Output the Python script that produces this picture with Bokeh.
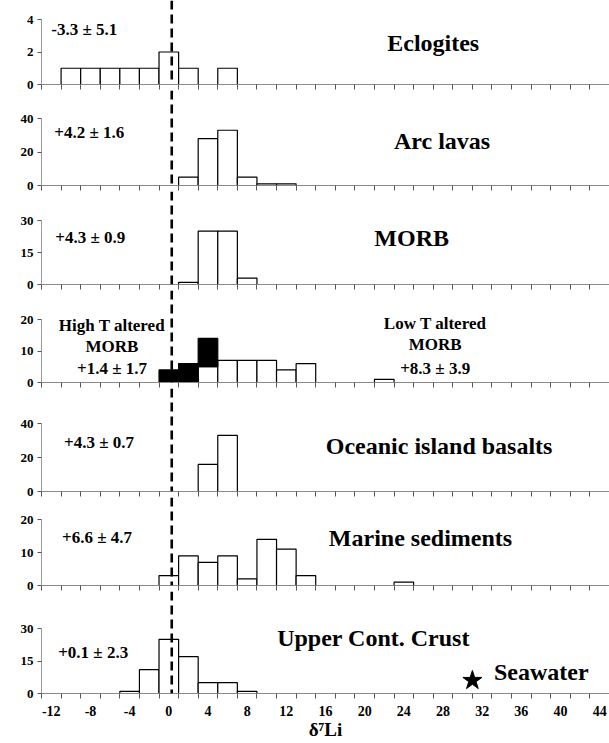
import numpy as np
from bokeh.plotting import figure
from bokeh.layouts import column
from bokeh.models import Range1d, FixedTicker, Span, Label
from bokeh.embed import file_html
from bokeh.resources import INLINE

# ---------------- data ----------------
categories = list(range(-12, 46, 2))          # bin centres (delta7Li)
bin_edges = list(range(-13, 47, 2))           # tick marks between bins
tick_labels = list(range(-12, 48, 4))         # labelled values

panel_names = ["Eclogites", "Arc lavas", "MORB", "Altered MORB",
               "Oceanic island basalts", "Marine sediments", "Upper Cont. Crust"]
panel_stats = ["-3.3 ± 5.1", "+4.2 ± 1.6", "+4.3 ± 0.9", "",
               "+4.3 ± 0.7", "+6.6 ± 4.7", "+0.1 ± 2.3"]
panel_ymax = [4, 40, 30, 20, 40, 20, 30]

eclogite_bins = [-10, -8, -6, -4, -2, 0, 2, 6]
eclogite_n = [1, 1, 1, 1, 1, 2, 1, 1]

arc_bins = [2, 4, 6, 8, 10, 12]
arc_n = [5, 28, 33, 5, 1, 1]

morb_bins = [2, 4, 6, 8]
morb_n = [1, 25, 25, 3]

altered_bins = [0, 2, 4, 6, 8, 10, 12, 14, 22]
lowT_n = [0, 0, 5, 7, 7, 7, 4, 6, 1]
highT_n = [4, 6, 9, 0, 0, 0, 0, 0, 0]

oib_bins = [4, 6]
oib_n = [16, 33]

sed_bins = [0, 2, 4, 6, 8, 10, 12, 14, 24]
sed_n = [3, 9, 7, 9, 2, 14, 11, 3, 1]

ucc_bins = [-4, -2, 0, 2, 4, 6, 8]
ucc_n = [1, 11, 25, 17, 5, 5, 1]

mantle_line = 0.3
seawater_value = 31

# ---------------- layout ----------------
FONT = "Liberation Serif"
W = 609
LEFT = 41
R = 6                      # bottom border of the upper panels
BOTTOM = 50                # bottom border of last panel
zero_px = [84, 185, 284, 382, 491, 585, 693]
max_px = [19, 118, 220, 319, 423, 519, 628]

x_range = Range1d(-13, 45)
figs = []
for i in range(7):
    top = 0 if i == 0 else zero_px[i - 1] + R
    F = zero_px[i] - top
    yend = panel_ymax[i] * F / (zero_px[i] - max_px[i])
    last = (i == 6)
    H = F + (BOTTOM if last else R)
    p = figure(width=W, height=H, x_range=x_range, y_range=Range1d(0, yend),
               min_border_left=LEFT, min_border_right=0, min_border_top=0,
               min_border_bottom=(BOTTOM if last else R),
               toolbar_location=None, output_backend="svg")
    p.outline_line_color = None
    p.xgrid.visible = False
    p.ygrid.visible = False
    p.background_fill_color = "white"
    p.border_fill_color = "white"

    # x axis
    xa = p.xaxis[0]
    xa.ticker = FixedTicker(ticks=tick_labels, minor_ticks=bin_edges)
    xa.axis_line_color = "#8a8a8a"
    xa.axis_line_width = 1
    xa.major_tick_line_color = None
    xa.major_tick_out = 5 if last else 0
    xa.major_tick_in = 0
    xa.minor_tick_out = 5
    xa.minor_tick_in = 0
    xa.minor_tick_line_color = "#555555"
    if last:
        xa.major_label_overrides = {t: str(t) for t in tick_labels}
        xa.major_label_text_font = FONT
        xa.major_label_text_font_style = "bold"
        xa.major_label_text_font_size = "14px"
        xa.major_label_text_color = "black"
        xa.major_label_standoff = 7
        xa.axis_label = "δ⁷Li"
        xa.axis_label_text_font = FONT
        xa.axis_label_text_font_style = "bold"
        xa.axis_label_text_font_size = "19px"
        xa.axis_label_text_color = "black"
        xa.axis_label_standoff = 0
    else:
        xa.major_label_overrides = {t: "" for t in tick_labels}
        xa.major_label_text_font_size = "0px"
        xa.major_label_standoff = 0

    # y axis
    ya = p.yaxis[0]
    ym = panel_ymax[i]
    ya.ticker = FixedTicker(ticks=[0, ym // 2, ym])
    ya.bounds = (0, ym)
    ya.axis_line_color = "#9a9a9a"
    ya.major_tick_out = 4
    ya.major_tick_in = 0
    ya.major_tick_line_color = "#555555"
    ya.minor_tick_line_color = None
    ya.major_label_text_font = FONT
    ya.major_label_text_font_style = "bold"
    ya.major_label_text_font_size = "13px"
    ya.major_label_text_color = "black"
    ya.major_label_standoff = 4

    p.add_layout(Span(location=mantle_line, dimension="height", line_color="black",
                      line_width=2.6, line_dash="9 5"))
    figs.append(p)

bar_style = dict(width=2, fill_color="white", line_color="black", line_width=1.2)

figs[0].vbar(x=eclogite_bins, top=eclogite_n, **bar_style)
figs[1].vbar(x=arc_bins, top=arc_n, **bar_style)
figs[2].vbar(x=morb_bins, top=morb_n, **bar_style)

lo = np.array(lowT_n)
hi = np.array(highT_n)
ab = np.array(altered_bins)
mlo = lo > 0
mhi = hi > 0
figs[3].vbar(x=ab[mlo], top=lo[mlo], **bar_style)
figs[3].vbar(x=ab[mhi], bottom=lo[mhi], top=(lo + hi)[mhi], width=2,
             fill_color="black", line_color="black", line_width=1.2)

figs[4].vbar(x=oib_bins, top=oib_n, **bar_style)
figs[5].vbar(x=sed_bins, top=sed_n, **bar_style)
figs[6].vbar(x=ucc_bins, top=ucc_n, **bar_style)

figs[6].scatter(x=[seawater_value], y=[6], marker="star", size=20,
                fill_color="black", line_color="black")


def lab(p, x, y, text, size, align="center"):
    p.add_layout(Label(x=x, y=y, text=text, text_font=FONT, text_font_style="bold",
                       text_font_size=size, text_align=align, text_baseline="middle",
                       text_color="black"))


# panel titles (x, y in data units of each panel)
title_pos = [(27.0, 2.58), (27.9, 26.3), (24.8, 22.0), None,
             (27.6, 27.0), (25.7, 14.5), (20.9, 25.4)]
stat_pos = [(-12.0, 3.38), (-11.7, 31.6), (-11.6, 22.0), None,
            (-10.7, 28.8), (-10.9, 14.5), (-11.3, 18.9)]
for i in range(7):
    if title_pos[i] is not None:
        lab(figs[i], title_pos[i][0], title_pos[i][1], panel_names[i], "24px")
    if stat_pos[i] is not None:
        lab(figs[i], stat_pos[i][0], stat_pos[i][1], panel_stats[i], "17px", "left")

# altered MORB panel texts
for t, y in zip(["High T altered", "MORB", "+1.4 ± 1.7"], [18.1, 11.4, 4.4]):
    lab(figs[3], -5.8, y, t, "17px")
for t, y in zip(["Low T altered", "MORB", "+8.3 ± 3.9"], [18.7, 12.1, 4.4]):
    lab(figs[3], 27.2, y, t, "17px")

lab(figs[6], 33.2, 9.7, "Seawater", "24px", "left")

layout = column(*figs, spacing=0)
open("out.html", "w").write(file_html(layout, INLINE))
